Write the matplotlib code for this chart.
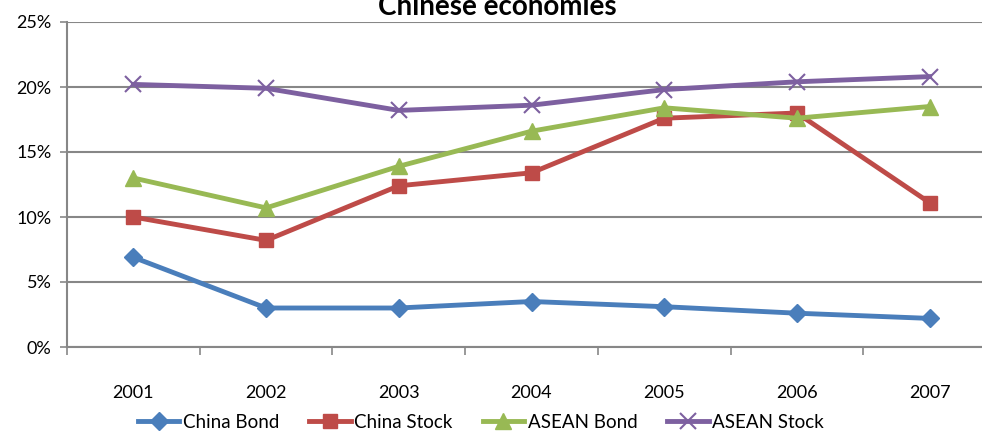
import matplotlib.pyplot as plt
import matplotlib.ticker as mticker
import numpy as np

plt.rcParams['font.family'] = ['Lato', 'DejaVu Sans']

years = ["2001", "2002", "2003", "2004", "2005", "2006", "2007"]
china_bond = [6.9, 3.0, 3.0, 3.5, 3.1, 2.6, 2.2]
china_stock = [10.0, 8.2, 12.4, 13.4, 17.6, 18.0, 11.1]
asean_bond = [13.0, 10.7, 13.9, 16.6, 18.4, 17.6, 18.5]
asean_stock = [20.2, 19.9, 18.2, 18.6, 19.8, 20.4, 20.8]

x = np.arange(len(years))

fig = plt.figure(figsize=(9.82, 4.33), dpi=100)
ax = fig.add_axes([67/982, 86/433, 929/982, 325/433])

ax.plot(x, china_bond, color='#4A7EBB', lw=3.5, marker='D', ms=9, label='China Bond')
ax.plot(x, china_stock, color='#BE4B48', lw=3.5, marker='s', ms=10, label='China Stock')
ax.plot(x, asean_bond, color='#98B954', lw=3.5, marker='^', ms=12, label='ASEAN Bond')
ax.plot(x, asean_stock, color='#7D60A0', lw=3.5, marker='x', ms=11, mew=1.5, label='ASEAN Stock')

ax.set_xlim(-0.5, 6.5)
ax.set_ylim(0, 25)
ax.set_yticks(range(0, 26, 5))
ax.yaxis.set_major_formatter(mticker.FuncFormatter(lambda v, p: f"{v:.0f}%"))
ax.set_xticks(x)
ax.set_xticklabels(years)
ax.set_xticks(np.arange(-0.5, 7, 1), minor=True)
ax.tick_params(axis='x', which='major', length=0, pad=27, labelsize=13)
ax.tick_params(axis='x', which='minor', length=6, width=1.2, color='#878787', direction='out')
ax.tick_params(axis='y', length=5, width=1.2, color='#878787', labelsize=13, pad=6)

ax.grid(axis='y', color='#878787', lw=1.5)
ax.set_axisbelow(True)
for s in ['top', 'right']:
    ax.spines[s].set_visible(False)
for s in ['left', 'bottom']:
    ax.spines[s].set_color('#878787')
    ax.spines[s].set_linewidth(1.5)

fig.legend(loc='center', bbox_to_anchor=(481/982, 1-422/433), ncol=4, frameon=False,
           fontsize=13.5, handlelength=2.2, handletextpad=0.2, columnspacing=1.6)

# title is cut at the top edge, as in the reference
fig.text(497/982, 1-15/433, "Chinese economies", ha='center', va='baseline',
         fontsize=20, fontweight='bold')

fig.savefig("out.png", dpi=100)
